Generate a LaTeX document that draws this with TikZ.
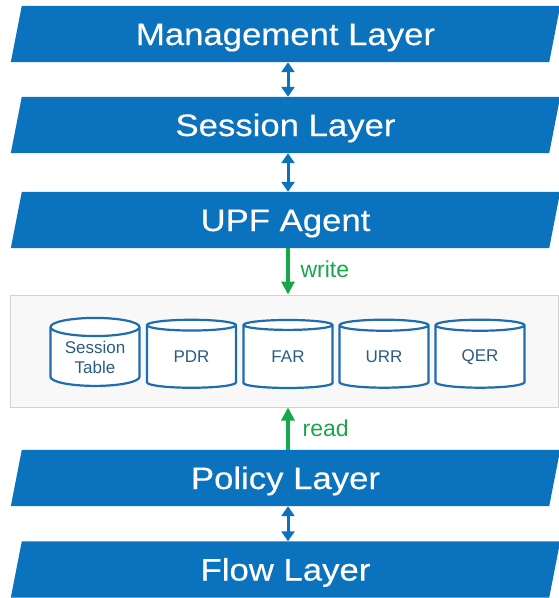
\documentclass[tikz,border=0pt]{standalone}
\usepackage{fontspec}
\setmainfont{Liberation Sans}
\newfontfamily\bannerfont[FakeStretch=1.12,FakeBold=0.4]{Liberation Sans}
\usetikzlibrary{shapes.geometric,arrows.meta,backgrounds}
\definecolor{layerblue}{HTML}{0B72BD}
\definecolor{dbblue}{HTML}{1F6DAE}
\definecolor{dbtext}{HTML}{2B5C86}
\definecolor{rwgreen}{HTML}{17A74B}
\definecolor{panelfill}{HTML}{F8F8F8}
\definecolor{panelline}{HTML}{D2D2D2}
\begin{document}
\begin{tikzpicture}[x=1pt,y=-1pt,
  layer/.style={rectangle, text=white, inner sep=0pt,
    minimum width=538pt, minimum height=56pt,
    text height=22pt, text depth=0pt,
    font=\bannerfont\fontsize{31}{36}\selectfont},
  panel/.style={rectangle, draw=panelline, fill=panelfill, line width=1pt,
    minimum width=548pt, minimum height=112pt, inner sep=0pt},
  db/.style={cylinder, shape border rotate=90, draw=dbblue, line width=2.2pt,
    fill=white, minimum width=89pt, minimum height=68pt, aspect=0.3,
    text=dbtext, align=center, inner sep=0pt,
    font=\fontsize{17}{20}\selectfont},
  dbl/.style={draw=layerblue, line width=3pt,
    {Triangle[width=13pt,length=10pt]}-{Triangle[width=13pt,length=10pt]}},
  rw/.style={draw=rwgreen, line width=3.2pt, -{Triangle[width=13pt,length=13pt]}},
  rwlabel/.style={text=rwgreen, anchor=west, inner sep=0pt,
    font=\fontsize{23}{27}\selectfont}
]
\useasboundingbox (0,0) rectangle (559,598);

% protocol layers
\node[layer] (mgmt)   at (285.5,34)    {Management Layer};
\node[layer] (sess)   at (285.5,125)   {Session Layer};
\node[layer] (upf)    at (285.5,220)   {UPF Agent};
\node[layer] (policy) at (285.5,478)   {Policy Layer};
\node[layer] (flow)   at (285.5,569.5) {Flow Layer};

% slanted blue bands behind the layer names
\begin{scope}[on background layer]
  \foreach \n in {mgmt,sess,upf,policy,flow}
    \fill[layerblue] ([xshift=-5.5pt]\n.south west) -- ([xshift=5.5pt]\n.north west)
      -- ([xshift=5.5pt]\n.north east) -- ([xshift=-5.5pt]\n.south east) -- cycle;
\end{scope}

% rule tables
\node[panel] (store) at (284,351) {};
\node[db] (st)  at (95,357)    {Session\\Table};
\node[db] (pdr) at (191.5,357) {PDR};
\node[db] (far) at (288,357)   {FAR};
\node[db] (urr) at (384,357)   {URR};
\node[db] (qer) at (480,357)   {QER};

% connectors
\coordinate (ax) at (288,0);
\draw[dbl] (mgmt.south -| ax) -- (sess.north -| ax);
\draw[dbl] (sess.south -| ax) -- (upf.north -| ax);
\draw[dbl] (policy.south -| ax) -- (flow.north -| ax);
\draw[rw] (upf.south -| ax) -- (store.north -| ax)
  node[rwlabel, pos=0.45, xshift=11pt] (wr) {write};
\draw[rw] (policy.north -| ax) -- (store.south -| ax)
  node[rwlabel, pos=0.5, xshift=13pt] (rd) {read};
\end{tikzpicture}
\end{document}
